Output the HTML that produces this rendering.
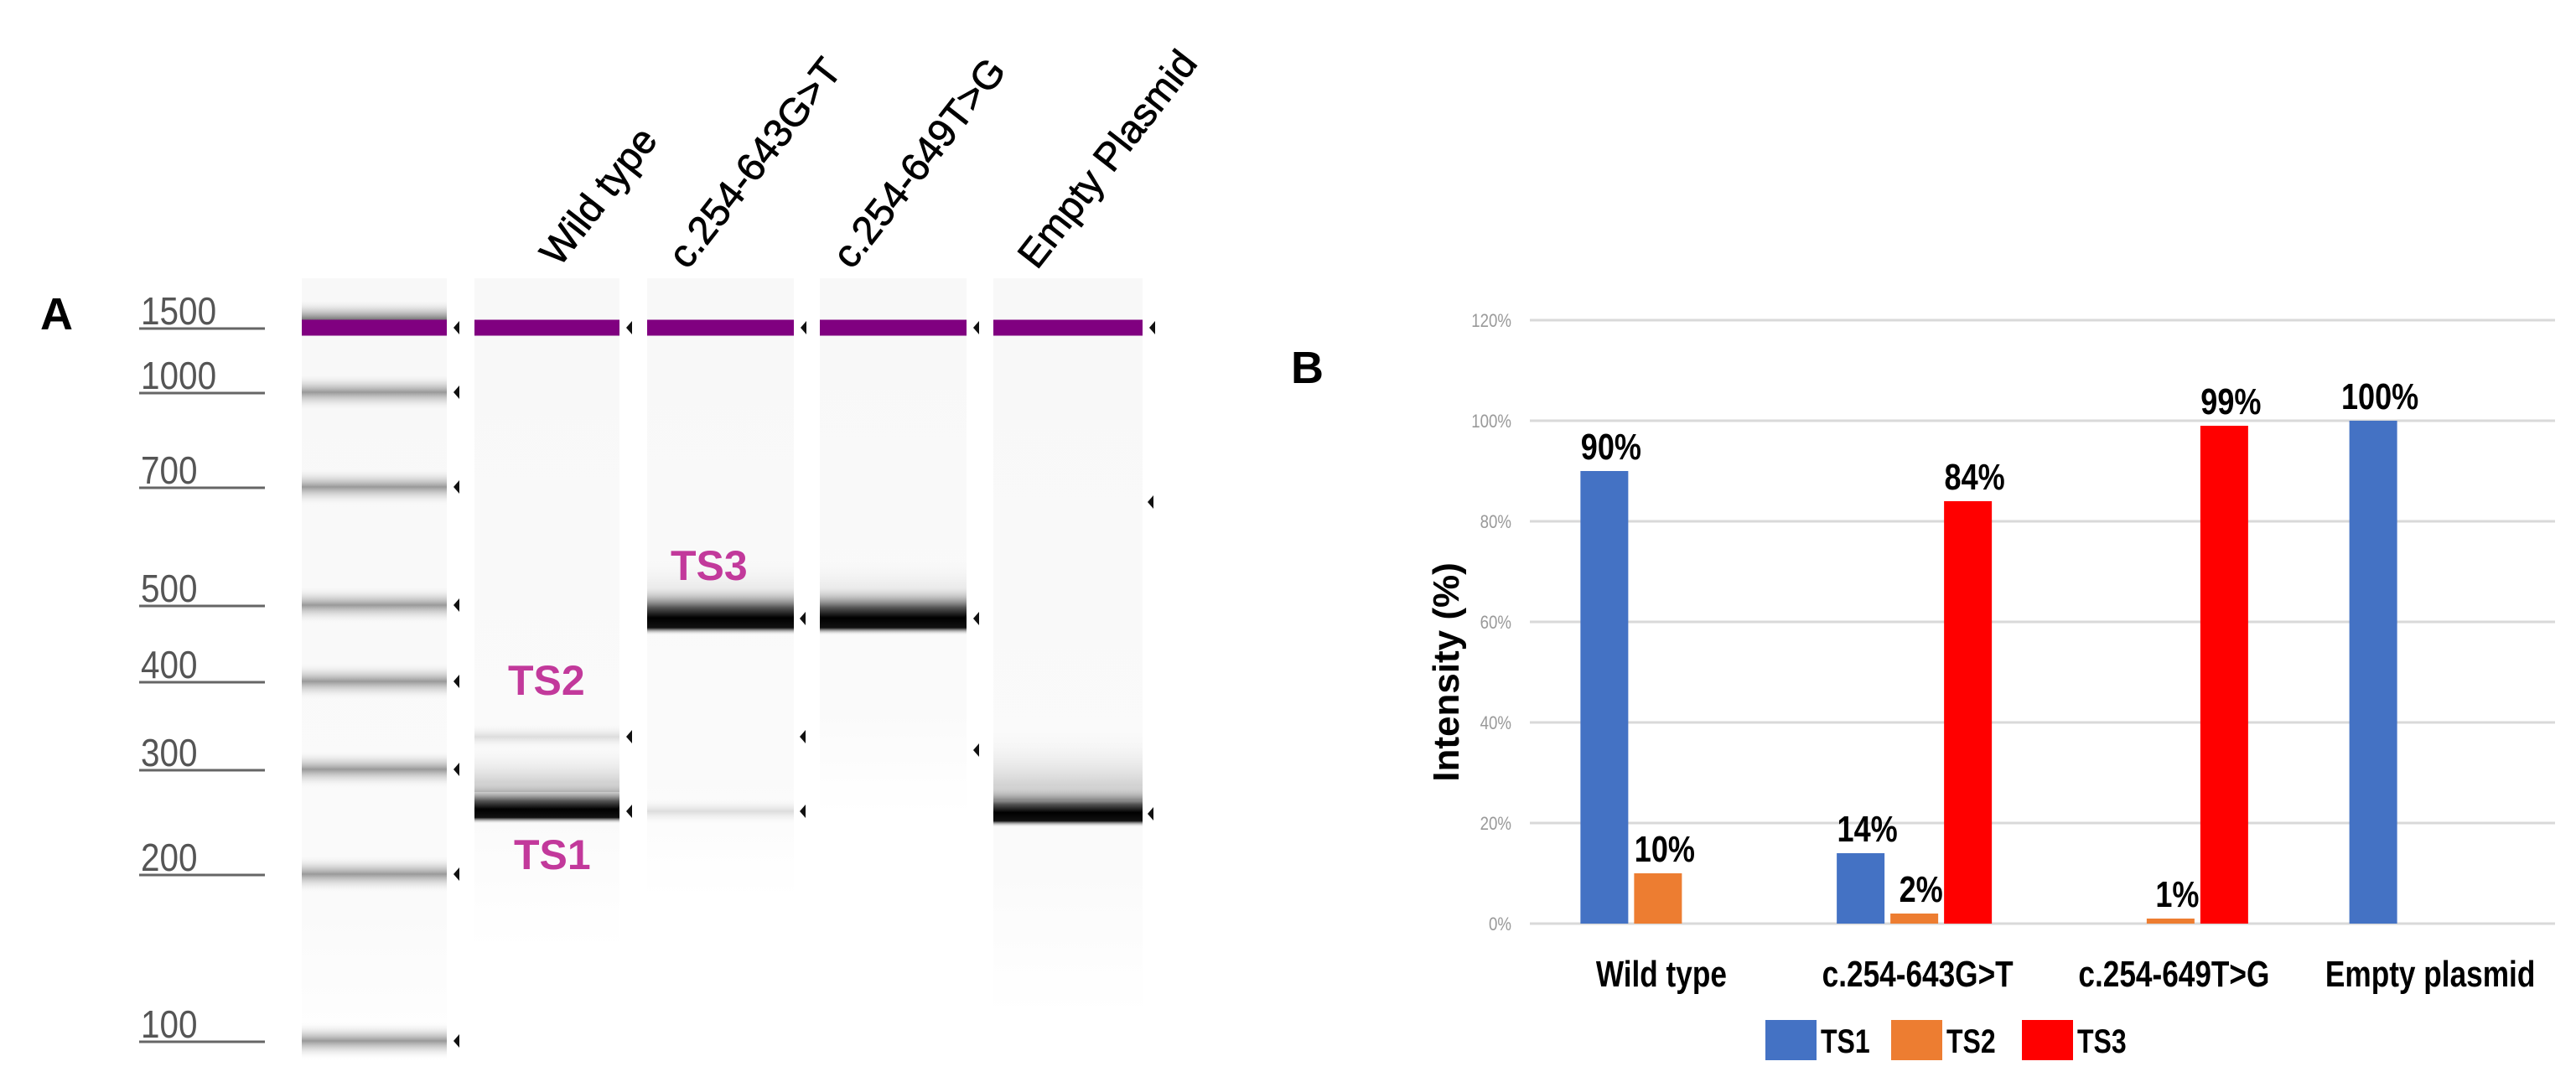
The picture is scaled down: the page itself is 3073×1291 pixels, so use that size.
<!DOCTYPE html>
<html><head><meta charset="utf-8"><style>
html,body{margin:0;padding:0;background:#fff}
svg{display:block}
</style></head><body>
<svg id="fig" width="3073" height="1291" viewBox="0 0 3073 1291" xmlns="http://www.w3.org/2000/svg">
<defs>
<linearGradient id="gGray" x1="0" y1="0" x2="0" y2="1">
<stop offset="0" stop-color="#fff" stop-opacity="0"/><stop offset="0.5" stop-color="#999"/><stop offset="1" stop-color="#fff" stop-opacity="0"/></linearGradient>
<linearGradient id="gBlack" x1="0" y1="0" x2="0" y2="1">
<stop offset="0" stop-color="#fff" stop-opacity="0"/><stop offset="0.45" stop-color="#555"/><stop offset="0.65" stop-color="#000"/><stop offset="0.85" stop-color="#111"/><stop offset="1" stop-color="#fff" stop-opacity="0"/></linearGradient>
<linearGradient id="gFaint" x1="0" y1="0" x2="0" y2="1">
<stop offset="0" stop-color="#fff" stop-opacity="0"/><stop offset="0.5" stop-color="#dcdcdc"/><stop offset="1" stop-color="#fff" stop-opacity="0"/></linearGradient>
<linearGradient id="gSmear" x1="0" y1="0" x2="0" y2="1">
<stop offset="0" stop-color="#fff" stop-opacity="0"/><stop offset="1" stop-color="#bbb"/></linearGradient>
<linearGradient id="gTop" x1="0" y1="0" x2="0" y2="1">
<stop offset="0" stop-color="#fff" stop-opacity="0"/><stop offset="1" stop-color="#333"/></linearGradient>
<linearGradient id="gLane" x1="0" y1="0" x2="0" y2="1">
<stop offset="0" stop-color="#f8f8f8"/><stop offset="0.8" stop-color="#fafafa"/><stop offset="1" stop-color="#fff"/></linearGradient>
</defs>
<g id="panelA"></g>
<g id="panelB"></g>
</svg>
<script>
// ---------- Bar chart data ----------
const categories = ["Wild type","c.254-643G>T","c.254-649T>G","Empty plasmid"];
const seriesNames = ["TS1","TS2","TS3"];
const ts1Values = [90,14,0,100];
const ts2Values = [10,2,1,0];
const ts3Values = [0,84,99,0];
const yTicks = [0,20,40,60,80,100,120];
const ts1Labels = ["90%","14%","","100%"];
const ts2Labels = ["10%","2%","1%",""];
const ts3Labels = ["","84%","99%",""];

const NS="http://www.w3.org/2000/svg";
function mk(parent,tag,attrs,text){const e=document.createElementNS(NS,tag);for(const k in attrs)e.setAttribute(k,attrs[k]);if(text!==undefined)e.textContent=text;parent.appendChild(e);return e;}
function narrow(el,f){try{const L=el.getComputedTextLength();if(L>0){el.setAttribute('textLength',(L*f).toFixed(1));el.setAttribute('lengthAdjust','spacingAndGlyphs');}}catch(e){}}

// ---------- Panel A: gel ----------
const A=document.getElementById('panelA');
let t=mk(A,'text',{x:48,y:393,'font-family':'Liberation Sans, sans-serif','font-size':54,'font-weight':'bold',fill:'#000'},'A');



const ladderTexts=["1500","1000","700","500","400","300","200","100"];
const ladderY=[391,468,581,722,813,918,1043,1242];
ladderTexts.forEach((s,i)=>{
  const y=ladderY[i];
  const lt=mk(A,'text',{x:168,y:y-4,'font-family':'Liberation Sans, sans-serif','font-size':46,fill:'#555'},s);
  
  
  narrow(lt,0.88);
  const ln=mk(A,'line',{x1:166,x2:316,y1:y+1,y2:y+1,stroke:'#666','stroke-width':3});
  
  
});
const lanes=[[360,533],[566,739],[772,947],[978,1153],[1185,1363]];
const laneH=[940,800,740,640,880];
lanes.forEach((l,i)=>{
  const r=mk(A,'rect',{x:l[0],y:332,width:l[1]-l[0],height:laneH[i],fill:'url(#gLane)'});
  
  
});
function band(x0,x1,yc,h,fill,name){const r=mk(A,'rect',{x:x0,y:yc-h/2,width:x1-x0,height:h,fill:fill});return r;}
function marker(x,y){const p=mk(A,'polygon',{points:`${x},${y} ${x+7},${y-8} ${x+7},${y+8}`,fill:'#111'});}
band(360,533,372,30,'url(#gTop)','ladder-upper-shadow');
ladderY.forEach((y,i)=>{ if(i>0){band(360,533,y,46,'url(#gGray)','ladder-band');} marker(541,y);});
lanes.forEach((l,i)=>{band(l[0],l[1],391,19,'#800080','upper-marker-band'); if(i>0) marker(l[1]+8,391);});
// WT lane
band(566,739,879,34,'url(#gFaint)','ts2-band');
band(566,739,915,60,'url(#gSmear)','smear');
band(566,739,958,50,'url(#gBlack)','ts1-band');
marker(747,879);marker(747,968);
// lane 2
band(772,947,700,80,'url(#gSmear)','smear');
band(772,947,728,60,'url(#gBlack)','ts3-band');
band(772,947,968,34,'url(#gFaint)','ts1-faint-band');
marker(954,738);marker(954,879);marker(954,968);
// lane 3
band(978,1153,700,80,'url(#gSmear)','smear');
band(978,1153,728,60,'url(#gBlack)','ts3-band');
marker(1161,738);marker(1161,895);
// lane 4
band(1185,1363,910,90,'url(#gSmear)','smear');
band(1185,1363,962,50,'url(#gBlack)','ts1-band');
marker(1369,599);marker(1369,971);
[["TS2",606,829],["TS3",800,692],["TS1",613,1037]].forEach(a=>{
  const e=mk(A,'text',{x:a[1],y:a[2],'font-family':'Liberation Sans, sans-serif','font-size':50,'font-weight':'bold',fill:'#c2399b'},a[0]);
  
  
});
[["Wild type",667,320],["c.254-643G>T",820,323],["c.254-649T>G",1016,323],["Empty Plasmid",1237,323]].forEach(a=>{
  const e=mk(A,'text',{x:a[1],y:a[2],'font-family':'Liberation Sans, sans-serif','font-size':47,fill:'#000',stroke:'#000','stroke-width':0.8,transform:`rotate(-52 ${a[1]} ${a[2]})`},a[0]);
  
  
});

// ---------- Panel B: bar chart ----------
const B=document.getElementById('panelB');
const X0=1825,X1=3048,Y0=1102,Y120=382;
const yScale=v=>Y0-(v/120)*(Y0-Y120);
const catW=(X1-X0)/categories.length;
const xCenter=i=>X0+catW*(i+0.5);
const barW=57,barStep=64;
t=mk(B,'text',{x:1540,y:457,'font-family':'Liberation Sans, sans-serif','font-size':54,'font-weight':'bold',fill:'#000'},'B');


yTicks.forEach(v=>{
  const y=yScale(v);
  const g=mk(B,'line',{x1:X0,x2:X1,y1:y,y2:y,stroke:'#d9d9d9','stroke-width':3});
  
  
  const l=mk(B,'text',{x:1803,y:y+8,'text-anchor':'end','font-family':'Liberation Sans, sans-serif','font-size':22,fill:'#999'},v+'%');
  
  
  narrow(l,0.85);
});
const allSeries=[ts1Values,ts2Values,ts3Values];
const allLabels=[ts1Labels,ts2Labels,ts3Labels];
const colors=["#4472c4","#ed7d31","#ff0000"];
categories.forEach((c,i)=>{
  allSeries.forEach((vals,s)=>{
    const v=vals[i];
    const cx=xCenter(i)+(s-1)*barStep;
    if(v>0){
      const r=mk(B,'rect',{x:cx-barW/2,y:yScale(v),width:barW,height:Y0-yScale(v),fill:colors[s]});
      
      
    }
    const lab=allLabels[s][i];
    if(lab){
      const tl=mk(B,'text',{x:cx+8,y:yScale(v)-14,'text-anchor':'middle','font-family':'Liberation Sans, sans-serif','font-size':44,'font-weight':'bold',fill:'#000'},lab);
      
      
      narrow(tl,0.82);
    }
  });
  const cl=mk(B,'text',{x:xCenter(i)+4,y:1177,'text-anchor':'middle','font-family':'Liberation Sans, sans-serif','font-size':44,'font-weight':'bold',fill:'#000'},c);
  
  
  narrow(cl,0.8);
});
t=mk(B,'text',{x:0,y:0,'text-anchor':'middle','font-family':'Liberation Sans, sans-serif','font-size':44,'font-weight':'bold',fill:'#000',transform:'translate(1740 802) rotate(-90)','xml:space':'preserve'},'Intensity  (%)');


const legX=[2106,2256,2412];
seriesNames.forEach((n,s)=>{
  const r=mk(B,'rect',{x:legX[s],y:1217,width:61,height:48,fill:colors[s]});
  
  
  const tx=mk(B,'text',{x:legX[s]+66,y:1256,'font-family':'Liberation Sans, sans-serif','font-size':40,'font-weight':'bold',fill:'#000'},n);
  
  
  narrow(tx,0.8);
});
</script>
</body></html>
